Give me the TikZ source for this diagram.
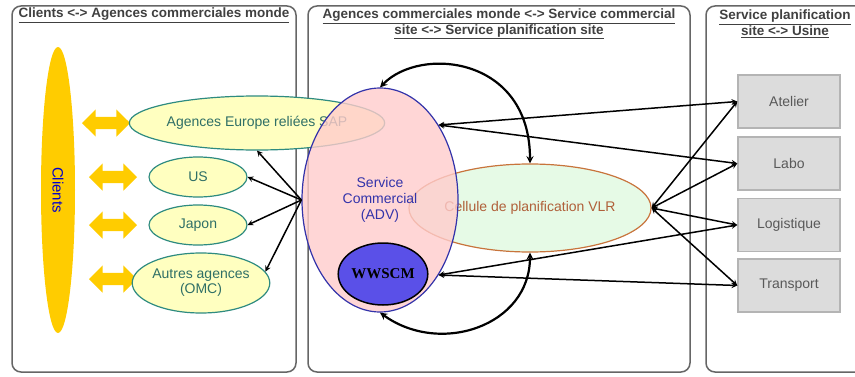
\documentclass[tikz,border=0pt]{standalone}
\usepackage{fontspec}
\setmainfont{Liberation Sans}
\newfontfamily\wwfont{Liberation Serif}
\usetikzlibrary{shapes.geometric,shapes.arrows}
\definecolor{clientjaune}{HTML}{FFCC00}
\definecolor{agfill}{HTML}{FFFFC0}
\definecolor{agbord}{HTML}{2E8B80}
\definecolor{agtexte}{HTML}{2F6F66}
\definecolor{advfill}{HTML}{FFCCCC}
\definecolor{advbleu}{HTML}{3333AA}
\definecolor{wwbleu}{HTML}{5A50E8}
\definecolor{celfill}{HTML}{E6FAE6}
\definecolor{celbord}{HTML}{C8743C}
\definecolor{celtexte}{HTML}{B0603A}
\definecolor{usinefill}{HTML}{DCDCDC}
\definecolor{usinebord}{HTML}{B4B4B4}
\definecolor{cadre}{HTML}{666666}

\begin{document}
\begin{tikzpicture}[x=1pt,y=1pt,
  cadrebox/.style={draw=cadre,line width=1.5pt,rounded corners=9pt},
  titre/.style={text=black!75,font=\bfseries\fontsize{13.5}{16}\selectfont,align=center},
  agence/.style={ellipse,draw=agbord,line width=1.2pt,fill=agfill,text=agtexte,
    inner sep=0pt,font=\fontsize{14}{15}\selectfont,align=center},
  fleche/.style={double arrow,fill=clientjaune,inner xsep=0pt,inner ysep=6pt,
    minimum height=48pt,double arrow head extend=7.5pt},
  usine/.style={rectangle,draw=usinebord,line width=1.5pt,fill=usinefill,text=black!65,
    minimum width=102pt,minimum height=53pt,font=\fontsize{14}{16}\selectfont},
  lien/.style={line width=1.5pt,stealth-stealth},
  ]
\useasboundingbox (0,0) rectangle (855,376);

% les trois cadres
\draw[cadrebox] (12,4) rectangle (296,370);
\draw[cadrebox] (308,4) rectangle (690,370);
\draw[cadrebox] (706,4) rectangle (880,370);
\node[titre] (t1) at (154,361) {\underline{Clients <-> Agences commerciales monde}};
\node[titre] (t2) at (499,352) {\underline{Agences commerciales monde <-> Service commercial}\\
  \underline{site <-> Service planification site}};
\node[titre] (t3) at (785,352) {\underline{Service planification}\\\underline{site <-> Usine}};

% clients et agences
\node[ellipse,fill=clientjaune,minimum width=286pt,minimum height=34pt,inner sep=0pt,
  rotate=-90,text=blue!80!black,font=\fontsize{15}{15}\selectfont] (clients) at (58,186) {Clients};
\node[fleche] (f1) at (106,253) {};
\node[fleche] (f2) at (113,199) {};
\node[fleche] (f3) at (113,151) {};
\node[fleche] (f4) at (113,97) {};

\node[agence,minimum width=240pt,minimum height=54pt] (eur) at (257,253) {Agences Europe reliées SAP};
\node[agence,minimum width=98pt,minimum height=40pt] (us) at (198,199) {US};
\node[agence,minimum width=98pt,minimum height=40pt] (jap) at (198,151) {Japon};
\node[agence,minimum width=116pt,minimum height=60pt] (omc) at (201,93) {Autres agences\\(OMC)};

% service commercial et cellule
\node[ellipse,draw=celbord,line width=1.2pt,fill=celfill,text=celtexte,inner sep=0pt,
  minimum width=200pt,minimum height=88pt,font=\fontsize{14}{16}\selectfont] (cel) at (530,168)
  {Cellule de planification VLR};
\node[ellipse,draw=advbleu,line width=1.2pt,fill=advfill,fill opacity=0.8,text opacity=1,
  text=advbleu,inner sep=0pt,minimum width=156pt,minimum height=224pt,align=center,
  font=\fontsize{14}{16}\selectfont] (sc) at (380,176) {Service\\Commercial\\(ADV)};
\node[ellipse,draw=black,line width=1.5pt,fill=wwbleu,inner sep=0pt,minimum width=70pt,
  minimum height=62pt,font=\wwfont\bfseries\fontsize{15}{16}\selectfont] (ww) at (383,102) {WWSCM};

% usine
\node[usine] (atl) at (789,274.5) {Atelier};
\node[usine] (lab) at (789,212.5) {Labo};
\node[usine] (log) at (789,151) {Logistique};
\node[usine] (tra) at (789,90.5) {Transport};

% liens
\draw[line width=1.5pt,-stealth] (sc.west) -- (eur.south);
\draw[line width=1.5pt,-stealth] (sc.west) -- (us.east);
\draw[line width=1.5pt,-stealth] (sc.west) -- (jap.east);
\draw[line width=1.5pt,-stealth] (sc.west) -- (omc.10);

\draw[lien] (sc.52) -- (atl.west);
\draw[lien] (sc.52) -- (lab.west);
\draw[lien] (sc.-52) -- (log.west);
\draw[lien] (sc.-52) -- (tra.west);
\foreach \b in {atl,lab,log,tra}
  \draw[lien] (cel.east) -- (\b.west);

\draw[line width=2.2pt,stealth-stealth] (sc.north) .. controls (420,330) and (530,320) .. (cel.north);
\draw[line width=2.2pt,stealth-stealth] (cel.south) .. controls (530,50) and (440,20) .. (sc.south);
\end{tikzpicture}
\end{document}
